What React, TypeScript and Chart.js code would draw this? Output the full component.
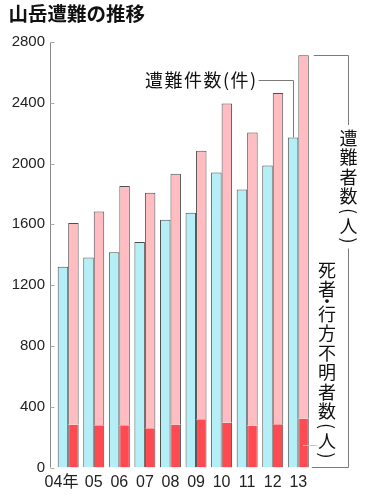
import { useEffect, useRef } from "react";
import { Chart, registerables } from "chart.js";

Chart.register(...registerables);

const TITLE = "山岳遭難の推移";
const categories = ["04年", "05", "06", "07", "08", "09", "10", "11", "12", "13"];
const incidents = [1321, 1382, 1417, 1484, 1631, 1676, 1942, 1830, 1988, 2172];
const victims = [1609, 1684, 1853, 1808, 1933, 2085, 2396, 2204, 2465, 2713];
const deaths = [281, 278, 278, 259, 281, 317, 294, 275, 284, 320];
const yMax = 2800;
const yStep = 400;
const LABEL_INCIDENTS = "遭難件数(件)";
const LABEL_VICTIMS = "遭難者数(人)";
const LABEL_DEATHS = "死者・行方不明者数(人)";

const BLUE = "#b4eff8";
const PINK = "#ffbdc2";
const RED = "#ff4a52";
const EDGE = "#4f4f4f";
const LINE = "#7a7a7a";
const NUM_FONT = '"Liberation Sans", "Noto Sans CJK JP", sans-serif';
const JP_FONT = '"Noto Sans CJK JP", "Noto Sans", sans-serif';

function drawVertical(ctx: CanvasRenderingContext2D, text: string, cx: number, top: number, pitch: number, parenSlot: number, dotSlot: number) {
  let y = top;
  ctx.textAlign = "center";
  ctx.textBaseline = "middle";
  for (const ch of text) {
    if (ch === "(" || ch === ")") {
      const c = y + parenSlot / 2;
      ctx.save();
      ctx.translate(cx, c);
      ctx.rotate(Math.PI / 2);
      ctx.fillText(ch, 0, 0);
      ctx.restore();
      y += parenSlot;
    } else if (ch === "・") {
      ctx.fillText(ch, cx, y + dotSlot / 2);
      y += dotSlot;
    } else {
      ctx.fillText(ch, cx, y + pitch / 2);
      y += pitch;
    }
  }
  return y;
}

const overlay = {
  id: "overlay",
  afterDraw(chart: any) {
    const ctx: CanvasRenderingContext2D = chart.ctx;
    const ys = chart.scales.y;
    const ca = chart.chartArea;
    const last = categories.length - 1;
    const b13 = chart.getDatasetMeta(0).data[last];
    const r13 = chart.getDatasetMeta(1).data[last];
    const p13 = chart.getDatasetMeta(2).data[last];
    const y0 = ys.getPixelForValue(0);
    const yTop = ys.getPixelForValue(yMax);

    ctx.save();
    // title
    ctx.fillStyle = "#111";
    ctx.font = `bold 19.5px ${JP_FONT}`;
    ctx.textAlign = "left";
    ctx.textBaseline = "middle";
    ctx.fillText(TITLE, 8.5, 13.5);

    // y axis line and ticks
    const ax = Math.floor(ca.left - 5) + 0.5;
    ctx.lineWidth = 1;
    ctx.strokeStyle = "#888";
    ctx.beginPath();
    ctx.moveTo(ax, Math.round(yTop) + 0.5);
    ctx.lineTo(ax, y0);
    ctx.stroke();
    ctx.strokeStyle = "#aaa";
    for (let v = 0; v <= yMax; v += yStep) {
      const py = Math.round(ys.getPixelForValue(v)) + 0.5;
      ctx.beginPath();
      ctx.moveTo(ax, py);
      ctx.lineTo(ax + 4, py);
      ctx.stroke();
    }

    // incidents label + leader
    ctx.fillStyle = "#111";
    ctx.font = `18px ${JP_FONT}`;
    ctx.textAlign = "left";
    ctx.textBaseline = "middle";
    (ctx as any).letterSpacing = "1.5px";
    const lx = 145;
    const ly = 80.5;
    ctx.fillText(LABEL_INCIDENTS, lx, ly);
    const w = ctx.measureText(LABEL_INCIDENTS).width;
    (ctx as any).letterSpacing = "0px";
    ctx.strokeStyle = LINE;
    ctx.beginPath();
    ctx.moveTo(lx + w + 1, ly);
    const bx13 = Math.round(b13.x) + 0.5;
    ctx.lineTo(bx13, ly);
    ctx.lineTo(bx13, b13.y);
    ctx.stroke();

    // victims bracket
    const bx = 348.5;
    const pRight = p13.x + p13.width / 2;
    const pTop = Math.round(p13.y) + 0.5;
    ctx.font = `18px ${JP_FONT}`;
    ctx.fillStyle = "#111";
    const textTop = 128;
    const textEnd = drawVertical(ctx, LABEL_VICTIMS, bx, textTop, 19.5, 10, 5);
    ctx.beginPath();
    ctx.moveTo(pRight + 5, pTop);
    ctx.lineTo(bx, pTop);
    ctx.lineTo(bx, textTop - 3);
    ctx.moveTo(bx, textEnd + 3);
    ctx.lineTo(bx, Math.round(y0) - 0.5);
    ctx.lineTo(pRight + 3, Math.round(y0) - 0.5);
    ctx.stroke();

    // deaths label + leader
    drawVertical(ctx, LABEL_DEATHS, 327, 260, 19.5, 10, 5);
    ctx.strokeStyle = "#c8c8c8";
    ctx.beginPath();
    ctx.moveTo(r13.x - 0.5, 445.5);
    ctx.lineTo(r13.x + 14, 445.5);
    ctx.stroke();
    ctx.restore();
  },
};

export default function App() {
  const ref = useRef<HTMLCanvasElement | null>(null);
  useEffect(() => {
    if (!ref.current) return;
    const remainder = victims.map((v, i) => v - deaths[i]);
    const chart = new Chart(ref.current, {
      type: "bar",
      data: {
        labels: categories,
        datasets: [
          {
            label: LABEL_INCIDENTS,
            data: incidents,
            backgroundColor: BLUE,
            borderColor: EDGE,
            borderWidth: { left: 1, right: 1, top: 1, bottom: 0 },
            borderSkipped: false,
            inflateAmount: 0,
            stack: "a",
          },
          {
            label: LABEL_DEATHS,
            data: deaths,
            backgroundColor: RED,
            borderColor: EDGE,
            borderWidth: { left: 1, right: 1, top: 0, bottom: 0 },
            borderSkipped: false,
            inflateAmount: 0,
            stack: "b",
          },
          {
            label: LABEL_VICTIMS,
            data: remainder,
            backgroundColor: PINK,
            borderColor: EDGE,
            borderWidth: { left: 1, right: 1, top: 1, bottom: 0 },
            borderSkipped: false,
            inflateAmount: 0,
            stack: "b",
          },
        ],
      } as any,
      options: {
        responsive: false,
        animation: false,
        events: [],
        datasets: { bar: { barPercentage: 1, categoryPercentage: 0.82 } },
        layout: { padding: { top: 42, right: 55.9, left: 0, bottom: 0 } },
        plugins: { legend: { display: false }, tooltip: { enabled: false }, title: { display: false } },
        scales: {
          x: {
            grid: { display: false, drawTicks: false },
            border: { display: false },
            ticks: {
              font: { family: NUM_FONT, size: 16 },
              color: "#222",
              padding: 5,
              maxRotation: 0,
              autoSkip: false,
              callback: (_v: any, i: number) => (i === 0 ? categories[i] + "   " : categories[i]),
            },
            afterFit: (s: any) => {
              s.height = 32.5;
            },
          },
          y: {
            stacked: true,
            min: 0,
            max: yMax,
            grid: { display: false, drawTicks: false },
            border: { display: false },
            ticks: {
              stepSize: yStep,
              font: { family: NUM_FONT, size: 15 },
              color: "#222",
              padding: 10.4,
              callback: (v: any) => String(v),
            },
            afterFit: (s: any) => {
              s.width = 55.4;
            },
          },
        },
      } as any,
      plugins: [overlay],
    });
    return () => chart.destroy();
  }, []);
  return (
    <div style={{ position: "absolute", left: 0, top: 0, width: 367, height: 500, background: "#fff" }}>
      <canvas ref={ref} width={367} height={500} style={{ width: 367, height: 500, display: "block" }} />
    </div>
  );
}
